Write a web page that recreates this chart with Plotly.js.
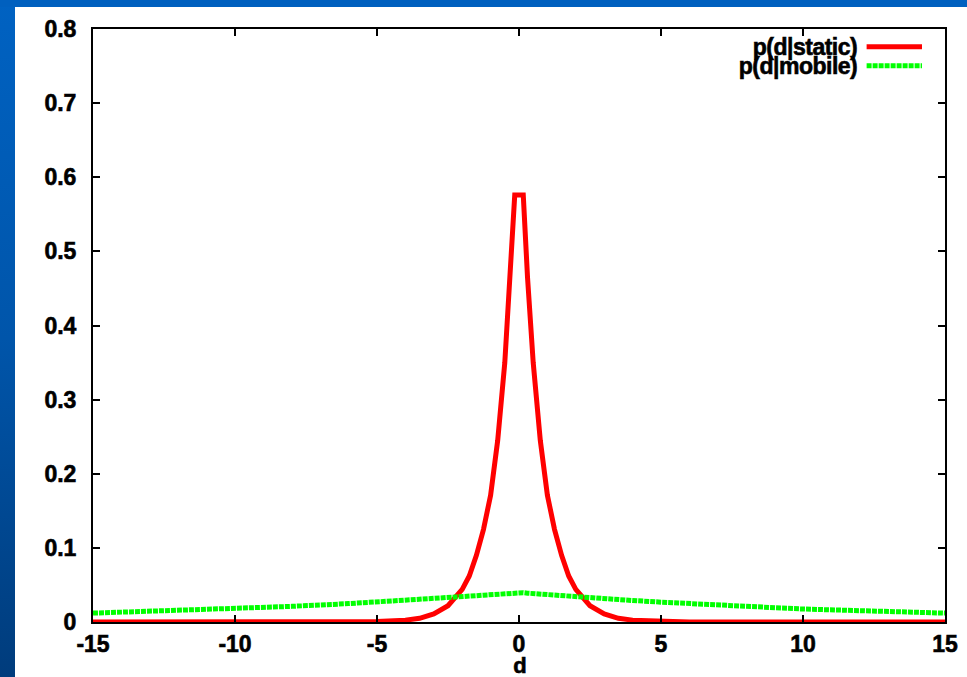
<!DOCTYPE html>
<html>
<head>
<meta charset="utf-8">
<script src="https://cdn.plot.ly/plotly-3.0.1.min.js"></script>
<style>
  html, body { margin: 0; padding: 0; width: 967px; height: 677px; overflow: hidden; }
  body { background: linear-gradient(to bottom, #0062C2 0%, #0055AA 50%, #003C7C 100%); position: relative; }
  #topband { position: absolute; left: 0; top: 0; width: 967px; height: 7px; background: #0060BF; }
  #chart { position: absolute; left: 15px; top: 7px; width: 952px; height: 670px; background: #ffffff; }
  #chart text { stroke: #000; stroke-width: 0.6px; }
  #chart .annotation-text { letter-spacing: -0.5px; }
</style>
</head>
<body>
<div id="topband"></div>
<div id="chart"></div>
<script>
// Sample positions along d
const dValues = [-15, -12, -10, -8, -6, -5, -4, -3.5, -3, -2.5, -2, -1.75, -1.5, -1.25, -1, -0.75, -0.5, -0.3, -0.15,
                 0.15, 0.3, 0.5, 0.75, 1, 1.25, 1.5, 1.75, 2, 2.5, 3, 3.5, 4, 5, 6, 8, 10, 12, 15];
// p(d|static)
const pStatic = [0, 0, 0, 0, 0.0001, 0.0006, 0.0025, 0.005, 0.011, 0.022, 0.044, 0.062, 0.09, 0.125, 0.171, 0.245, 0.35, 0.465, 0.576,
                 0.576, 0.465, 0.35, 0.245, 0.171, 0.125, 0.09, 0.062, 0.044, 0.022, 0.011, 0.005, 0.0025, 0.0006, 0.0001, 0, 0, 0, 0];
// p(d|mobile)
const pMobile = [0.012, 0.0153, 0.0175, 0.0211, 0.0248, 0.0268, 0.029, 0.0302, 0.0315, 0.0328, 0.0341, 0.0348, 0.0355, 0.0362, 0.0369, 0.0376, 0.0383, 0.0389, 0.0395,
                 0.0395, 0.0389, 0.0383, 0.0376, 0.0369, 0.0362, 0.0355, 0.0348, 0.0341, 0.0328, 0.0315, 0.0302, 0.029, 0.0268, 0.0248, 0.0211, 0.0175, 0.0153, 0.012];
const seriesNames = ['p(d|static)', 'p(d|mobile)'];
const xTitle = 'd';
const xTicks = [-15, -10, -5, 0, 5, 10, 15];
const yTicks = [0, 0.1, 0.2, 0.3, 0.4, 0.5, 0.6, 0.7, 0.8];
const yTickText = ['0', '0.1', '0.2', '0.3', '0.4', '0.5', '0.6', '0.7', '0.8'];

const fontFam = 'Liberation Sans, Arial, sans-serif';

const traces = [
  { x: dValues, y: pStatic, name: seriesNames[0], mode: 'lines', line: { color: '#FF0000', width: 5 }, showlegend: false },
  { x: dValues, y: pMobile, name: seriesNames[1], mode: 'lines', line: { color: '#00FF00', width: 5, dash: '5px,1px' }, showlegend: false }
];

const axisCommon = {
  showgrid: false, zeroline: false, showline: true, linecolor: '#000', linewidth: 2,
  ticks: 'inside', ticklen: 7, tickwidth: 2, tickcolor: '#000', mirror: 'allticks',
  tickfont: { family: fontFam, size: 23, color: '#000', weight: 'bold' }
};

const legendX0 = 0.908, legendX1 = 0.973, legendTextX = 0.903;
const legendY = [0.970, 0.938];

const annotations = seriesNames.map((n, i) => ({
  text: n, xref: 'paper', yref: 'paper', x: legendTextX, y: legendY[i], xanchor: 'right', yanchor: 'middle',
  showarrow: false, font: { family: fontFam, size: 23, color: '#000', weight: 'bold' }
}));
annotations.push({
  text: xTitle, xref: 'paper', yref: 'paper', x: 0.5, y: -0.074, xanchor: 'center', yanchor: 'middle',
  showarrow: false, font: { family: fontFam, size: 22, color: '#000', weight: 'bold' }
});

const layout = {
  width: 952, height: 670,
  margin: { l: 78, r: 22, t: 22, b: 55 },
  paper_bgcolor: '#ffffff', plot_bgcolor: '#ffffff',
  xaxis: Object.assign({}, axisCommon, {
    range: [-15, 15], tickvals: xTicks, ticktext: xTicks.map(String), ticklabelstandoff: 0
  }),
  yaxis: Object.assign({}, axisCommon, {
    range: [0, 0.8], tickvals: yTicks, ticktext: yTickText, ticklabelstandoff: 10
  }),
  shapes: [
    { type: 'line', xref: 'paper', yref: 'paper', x0: legendX0, x1: legendX1, y0: legendY[0], y1: legendY[0], line: { color: '#FF0000', width: 5 } },
    { type: 'line', xref: 'paper', yref: 'paper', x0: legendX0, x1: legendX1, y0: legendY[1], y1: legendY[1], line: { color: '#00FF00', width: 5, dash: '5px,1px' } }
  ],
  annotations: annotations
};

Plotly.newPlot('chart', traces, layout, { displayModeBar: false, staticPlot: true });
</script>
</body>
</html>
